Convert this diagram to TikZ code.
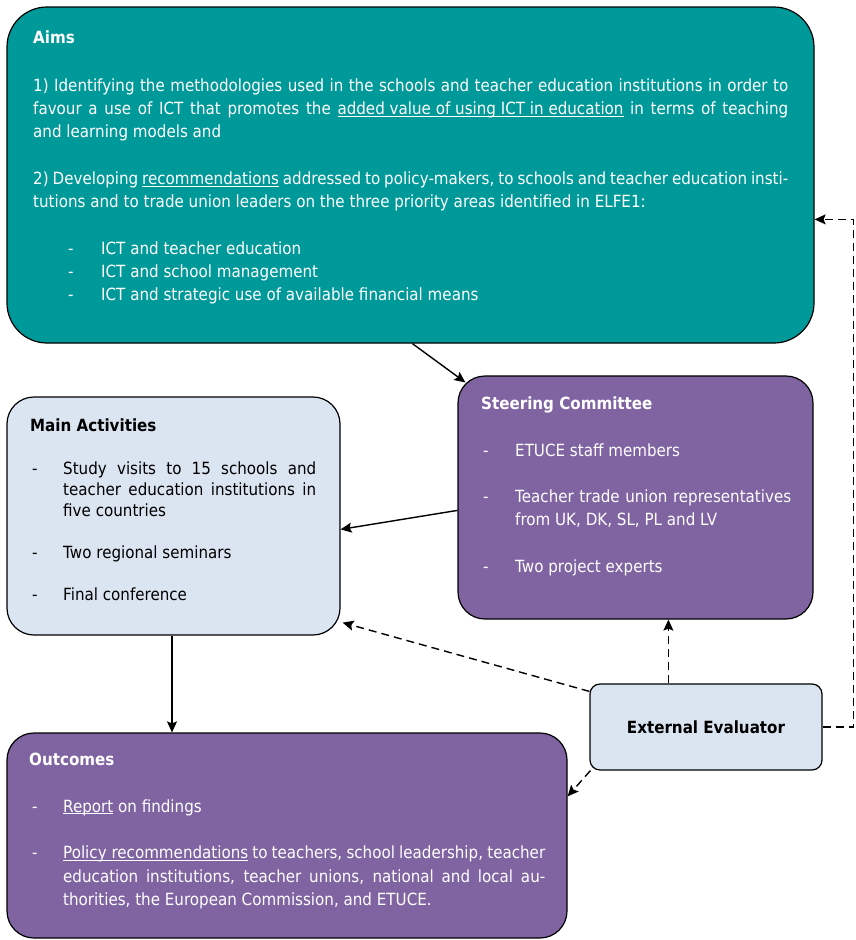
\documentclass[tikz,border=0pt]{standalone}
\usepackage{fontspec}
\setmainfont{DejaVu Sans}[FakeStretch=0.9]
\usetikzlibrary{arrows.meta,calc}
\definecolor{tealbox}{HTML}{009999}
\definecolor{purpbox}{HTML}{8064A2}
\definecolor{lbluebox}{HTML}{DBE5F1}
% line helpers
\newcommand\jl[1]{\hbox to \hsize{#1}}
\newcommand\pl[1]{\hbox{#1}}
\newcommand\bl{\hbox{}}
\newcommand\bi[3]{\hbox to \hsize{\hskip#1\relax\hbox to #2{-\hss}#3\hfil}}
\newcommand\bj[3]{\hbox to \hsize{\hskip#1\relax\hbox to #2{-\hss}#3}}
\newcommand\cj[2]{\hbox to \hsize{\hskip#1\relax #2}}
\newcommand\cp[2]{\hbox to \hsize{\hskip#1\relax #2\hfil}}
\newcommand\myul[1]{\setbox0\hbox{#1}\rlap{\rule[-2.4pt]{\wd0}{1pt}}\box0\relax}
\newcommand\blk[3]{\parbox[t]{#1}{\baselineskip=#2\lineskiplimit=-20pt\relax #3}}
\newcommand\fs{\fontsize{16.8}{23.33}\selectfont}
\tikzset{
  box/.style={draw=black, line width=1.2pt, rounded corners=#1, inner sep=0pt},
  txt/.style={anchor=base west, inner sep=0pt, font=\fs},
  ttl/.style={anchor=base west, inner sep=0pt, font=\fs\bfseries},
  arr/.style={line width=1.4pt, -{Stealth[length=11pt,width=10pt,inset=2pt]}},
  dsh/.style={arr, dash pattern=on 8pt off 5pt}
}
\begin{document}
\begin{tikzpicture}[x=1pt,y=-1pt]
\useasboundingbox (0,0) rectangle (855,940);
\fill[white] (0,0) rectangle (855,940);
% boxes
\node[box=40pt, fill=tealbox, minimum width=807pt, minimum height=336pt] (aims) at (410.5,175) {};
\node[box=27pt, fill=purpbox, minimum width=355pt, minimum height=243pt] (steer) at (635.5,497.5) {};
\node[box=27pt, fill=lbluebox, minimum width=333pt, minimum height=238pt] (main) at (173.5,516) {};
\node[box=10pt, fill=lbluebox, minimum width=232pt, minimum height=86pt, font=\fs\bfseries] (ee) at (706,727) {External Evaluator};
\node[box=27pt, fill=purpbox, minimum width=560pt, minimum height=205pt] (outc) at (287,835.5) {};
% Aims text
\node[ttl, text=white] (aimsh) at (33,43) {Aims};
\node[txt, text=white] (aimst) at (33,91) {\blk{755pt}{23.33pt}{%
\jl{1) Identifying the methodologies used in the schools and teacher education institutions in order to}
\jl{favour a use of ICT that promotes the \myul{added value of using ICT in education} in terms of teaching}
\pl{and learning models and}
\bl
\jl{2) Developing \myul{recommendations} addressed to policy-makers, to schools and teacher education insti-}
\pl{tutions and to trade union leaders on the three priority areas identified in ELFE1:}
\bl
\bi{35pt}{33pt}{ICT and teacher education}
\bi{35pt}{33pt}{ICT and school management}
\bi{35pt}{33pt}{ICT and strategic use of available financial means}}};
% Main activities text
\node[ttl] (mainh) at (30,431) {Main Activities};
\node[txt] (maint) at (32,474) {\blk{284pt}{21pt}{%
\bj{0pt}{31pt}{Study visits to 15 schools and}
\cj{31pt}{teacher education institutions in}
\cp{31pt}{five countries}
\bl
\bi{0pt}{31pt}{Two regional seminars}
\bl
\bi{0pt}{31pt}{Final conference}}};
% Steering committee text
\node[ttl, text=white] (steerh) at (481,409) {Steering Committee};
\node[txt, text=white] (steert) at (483,456) {\blk{308pt}{23.33pt}{%
\bi{0pt}{32pt}{ETUCE staff members}
\bl
\bj{0pt}{32pt}{Teacher trade union representatives}
\cp{32pt}{from UK, DK, SL, PL and LV}
\bl
\bi{0pt}{32pt}{Two project experts}}};
% Outcomes text
\node[ttl, text=white] (outch) at (29,765) {Outcomes};
\node[txt, text=white] (outct) at (32,812) {\blk{513pt}{23.33pt}{%
\bi{0pt}{31pt}{\myul{Report} on findings}
\bl
\bj{0pt}{31pt}{\myul{Policy recommendations} to teachers, school leadership, teacher}
\cj{31pt}{education institutions, teacher unions, national and local au-}
\cp{31pt}{thorities, the European Commission, and ETUCE.}}};
% connectors
\draw[arr] ($(aims.south west)+(406,0)$) -- ($(steer.north west)+(8,7)$);
\draw[arr] ($(steer.north west)+(0,135)$) -- ($(main.north east)+(0,133)$);
\draw[arr] ($(main.south)+(-1.5,0)$) -- ($(outc.north -| main.south)+(-1.5,0)$);
\draw[dsh] ($(ee.north west)+(0,8)$) -- ($(main.south east)+(2,-13)$);
\draw[dsh] ($(ee.north west)+(79,0)$) -- ($(steer.south west)+(211,0)$);
\draw[dsh] ($(ee.south west)+(1,0)$) -- ($(outc.north east)+(0,64)$);
\draw[dsh] (ee.east) -- ($(ee.east)+(31,0)$) |- ($(aims.north east)+(0,213)$);
\end{tikzpicture}
\end{document}
